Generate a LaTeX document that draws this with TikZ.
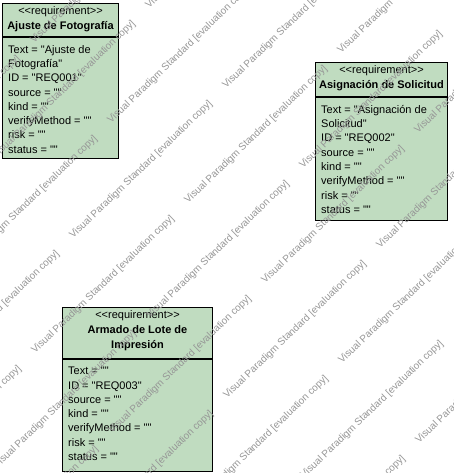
\documentclass[tikz,border=0pt]{standalone}
\usepackage{fontspec}
\newfontfamily\vpfont{Liberation Sans}
\usetikzlibrary{positioning}

\definecolor{reqgreen}{RGB}{192,220,192}
\definecolor{markgray}{RGB}{150,150,150}

\tikzset{
  reqpart/.style={draw=black, fill=reqgreen, line width=1pt, inner sep=0pt, anchor=north west},
  reqhead/.style={anchor=north, inner sep=0pt, align=center, font=\vpfont\fontsize{11}{15}\selectfont},
  reqattr/.style={anchor=north west, inner sep=0pt, align=left, font=\vpfont\fontsize{11}{14.3}\selectfont},
  vpmark/.style={anchor=base west, inner sep=0pt, rotate=44, text=markgray, font=\vpfont\fontsize{10}{12}\selectfont}
}

\begin{document}
\begin{tikzpicture}[x=1pt, y=-1pt]
    \useasboundingbox (0,0) rectangle (453,473);

    % REQ001
    \node[reqpart, minimum width=116pt, minimum height=33pt] (fotoHead) at (2,3) {};
    \node[reqpart, minimum width=116pt, minimum height=121pt] (fotoBody) at (fotoHead.south west) {};
    \node[reqhead] (fotoTitle) at ([yshift=-3pt]fotoHead.north) {<<requirement>>\\\textbf{Ajuste de Fotografía}};
    \node[reqattr] (fotoAttr) at ([xshift=6pt,yshift=-8pt]fotoBody.north west)
        {Text = "Ajuste de\\Fotografía"\\ID = "REQ001"\\source = ""\\kind = ""\\verifyMethod = ""\\risk = ""\\status = ""};

    % REQ002
    \node[reqpart, minimum width=132pt, minimum height=34pt] (solHead) at (315,62) {};
    \node[reqpart, minimum width=132pt, minimum height=123pt] (solBody) at (solHead.south west) {};
    \node[reqhead] (solTitle) at ([yshift=-3pt]solHead.north) {<<requirement>>\\\textbf{Asignación de Solicitud}};
    \node[reqattr] (solAttr) at ([xshift=6pt,yshift=-8pt]solBody.north west)
        {Text = "Asignación de\\Solicitud"\\ID = "REQ002"\\source = ""\\kind = ""\\verifyMethod = ""\\risk = ""\\status = ""};

    % REQ003
    \node[reqpart, minimum width=150pt, minimum height=51pt] (loteHead) at (62,307) {};
    \node[reqpart, minimum width=150pt, minimum height=112pt] (loteBody) at (loteHead.south west) {};
    \node[reqhead] (loteTitle) at ([yshift=-3pt]loteHead.north) {<<requirement>>\\\textbf{Armado de Lote de}\\\textbf{Impresión}};
    \node[reqattr] (loteAttr) at ([xshift=6pt,yshift=-8pt]loteBody.north west)
        {Text = ""\\ID = "REQ003"\\source = ""\\kind = ""\\verifyMethod = ""\\risk = ""\\status = ""};

    % watermark
    \begin{scope}
        \clip (0,0) rectangle (453,473);
        \foreach \i in {-7,...,2}{
            \foreach \j in {-3,...,9}{
                \pgfmathsetmacro\px{226+153*\i+115*\j}
                \pgfmathsetmacro\py{89-150*\i-35*\j}
                \pgfmathtruncatemacro\keep{(\px<450)&&(\px>-135)&&(\py>5)&&(\py<600)?1:0}
                \ifnum\keep=1
                    \node[vpmark] (mark\i\j) at (\px,\py) {Visual Paradigm Standard [evaluation copy]};
                \fi
            }
        }
    \end{scope}
\end{tikzpicture}
\end{document}
